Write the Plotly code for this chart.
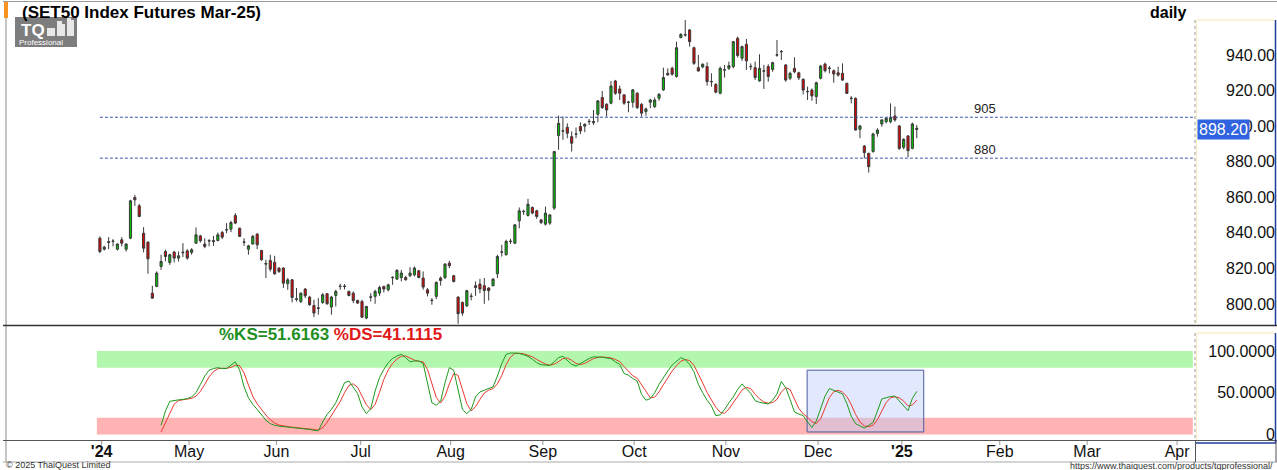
import plotly.graph_objects as go

# ---------------- data ----------------
OPEN = [837.0, 830.8, 834.6, 835.2, 830.8, 836.1, 830.8, 837.0, 859.9, 855.2,
        839.8, 834.8, 806.1, 809.9, 821.1, 829.5, 823.4, 829.2, 825.8, 828.8,
        829.9, 829.0, 834.2, 838.3, 833.7, 835.4, 835.0, 835.7, 840.2, 841.6,
        842.1, 849.8, 842.6, 834.7, 830.8, 833.8, 839.3, 830.1, 822.4, 824.5,
        823.5, 820.2, 820.2, 811.4, 813.6, 802.6, 801.4, 808.4, 803.9, 799.2,
        797.5, 800.9, 805.8, 798.3, 804.8, 809.8, 809.8, 807.1, 806.1, 802.0,
        801.4, 792.1, 803.8, 804.3, 806.1, 809.9, 808.0, 814.8, 814.0, 814.9,
        814.9, 815.9, 816.4, 818.7, 814.6, 808.0, 801.9, 804.3, 814.6, 814.9,
        823.0, 815.9, 803.9, 800.9, 799.0, 804.2, 810.3, 811.2, 810.3, 809.0,
        810.3, 817.0, 829.1, 827.7, 835.1, 834.2, 846.8, 851.9, 849.8, 854.3,
        852.4, 847.3, 844.9, 845.5, 853.9, 894.7, 897.2, 899.4, 894.1, 895.4,
        899.8, 900.0, 902.5, 901.9, 906.7, 916.1, 912.3, 912.9, 925.4, 920.9,
        917.6, 913.3, 913.4, 918.5, 912.3, 908.2, 913.4, 911.0, 915.7, 920.4,
        929.7, 932.5, 927.9, 949.8, 951.2, 954.1, 944.1, 932.9, 933.3, 933.5,
        924.9, 923.5, 918.5, 931.5, 932.5, 933.5, 949.4, 938.2, 946.0, 933.4,
        932.9, 925.4, 930.9, 933.5, 931.9, 939.9, 941.8, 934.4, 926.9, 932.5,
        930.0, 926.3, 919.3, 920.3, 916.6, 926.9, 934.9, 932.4, 931.2, 930.0,
        929.7, 924.1, 915.5, 915.6, 898.2, 888.8, 884.7, 885.7, 895.9, 901.2,
        902.5, 902.5, 905.7, 900.1, 888.1, 894.5, 887.5, 898.8]
HIGH = [838.0, 832.7, 837.6, 836.5, 834.2, 837.6, 834.2, 858.6, 861.4, 856.3,
        843.2, 835.2, 810.3, 818.3, 827.7, 830.5, 828.2, 829.9, 829.5, 834.2,
        830.8, 831.4, 843.0, 838.9, 837.0, 836.5, 838.3, 840.2, 841.1, 845.5,
        846.8, 851.1, 843.0, 837.0, 833.3, 838.9, 839.8, 830.5, 824.9, 827.7,
        827.1, 820.7, 820.7, 814.6, 814.0, 809.0, 806.5, 809.0, 804.6, 802.4,
        803.3, 806.1, 806.1, 804.6, 808.0, 811.4, 811.2, 807.5, 807.1, 802.4,
        802.4, 799.0, 806.1, 808.0, 810.3, 810.3, 811.4, 815.5, 819.6, 819.2,
        815.9, 820.7, 821.1, 819.2, 818.3, 809.0, 803.3, 812.7, 815.5, 823.0,
        824.3, 816.4, 804.3, 801.4, 808.0, 806.1, 812.7, 814.2, 814.6, 809.5,
        814.6, 827.7, 833.3, 836.1, 836.7, 844.9, 854.3, 853.0, 859.1, 854.8,
        853.0, 847.9, 854.8, 850.5, 886.1, 905.9, 905.4, 901.6, 897.0, 899.2,
        902.2, 901.6, 904.1, 909.1, 914.7, 919.8, 912.9, 925.4, 926.0, 922.8,
        917.9, 914.2, 920.9, 919.1, 912.9, 910.4, 915.3, 916.1, 918.5, 932.9,
        932.5, 933.5, 947.5, 952.2, 959.7, 954.6, 944.7, 940.0, 935.3, 935.9,
        929.7, 924.1, 933.5, 934.4, 936.3, 947.9, 950.3, 945.3, 949.0, 935.3,
        936.3, 940.4, 934.4, 934.8, 936.2, 948.4, 942.8, 934.9, 930.6, 938.7,
        930.6, 926.9, 922.2, 921.2, 925.0, 934.4, 935.7, 933.8, 931.9, 933.4,
        935.3, 924.4, 916.9, 916.2, 900.6, 889.4, 885.1, 896.3, 898.8, 903.8,
        905.0, 912.8, 911.0, 900.6, 893.2, 895.0, 902.0, 900.6]
LOW = [828.6, 830.1, 830.8, 832.4, 830.1, 832.4, 829.5, 836.5, 855.2, 848.8,
       829.0, 817.0, 803.0, 809.5, 819.2, 824.0, 822.0, 823.4, 823.9, 826.4,
       824.9, 827.7, 833.8, 834.6, 831.4, 832.4, 832.7, 835.2, 836.5, 839.8,
       840.4, 844.9, 837.6, 832.7, 827.7, 833.3, 830.8, 824.3, 814.6, 818.3,
       816.4, 817.4, 809.0, 808.0, 800.9, 801.4, 800.5, 803.3, 799.0, 792.6,
       794.0, 800.1, 799.6, 794.0, 798.6, 808.0, 808.2, 804.3, 800.5, 800.1,
       792.1, 791.5, 801.4, 800.1, 804.6, 806.5, 807.1, 810.8, 813.6, 812.7,
       813.2, 815.1, 815.5, 814.4, 808.0, 804.3, 799.6, 802.8, 810.3, 814.0,
       820.2, 812.1, 788.9, 793.4, 798.3, 802.0, 804.6, 806.1, 800.1, 802.0,
       809.9, 814.6, 826.7, 827.3, 833.7, 833.7, 842.6, 850.1, 849.2, 850.5,
       847.9, 844.9, 844.1, 844.5, 852.9, 886.7, 892.3, 893.2, 885.7, 893.2,
       895.5, 896.6, 900.7, 900.7, 902.2, 909.7, 905.4, 912.3, 917.6, 914.7,
       912.0, 907.8, 910.4, 909.7, 905.4, 905.9, 910.1, 910.1, 914.2, 919.8,
       928.4, 928.4, 927.3, 949.4, 950.3, 944.7, 934.4, 930.7, 932.5, 922.8,
       922.2, 918.5, 917.9, 927.3, 931.6, 932.5, 938.6, 936.7, 931.6, 931.6,
       926.0, 925.0, 920.9, 925.0, 930.6, 939.0, 937.2, 925.0, 925.9, 929.7,
       925.9, 917.9, 914.7, 914.3, 912.4, 926.3, 930.2, 929.7, 924.4, 927.8,
       925.5, 918.1, 912.8, 897.5, 893.2, 881.9, 873.9, 885.1, 894.1, 899.7,
       901.6, 901.6, 902.5, 886.6, 887.0, 882.5, 887.0, 893.2]
CLOSE = [829.5, 832.0, 835.0, 835.4, 833.7, 834.2, 833.7, 858.0, 858.6, 849.2,
         831.4, 825.4, 803.3, 817.4, 823.9, 826.7, 827.7, 825.8, 827.1, 829.1,
         825.8, 830.5, 838.9, 835.5, 832.4, 835.6, 835.6, 838.9, 837.6, 841.8,
         845.8, 845.5, 838.0, 834.9, 832.7, 838.0, 833.3, 824.9, 822.8, 819.6,
         817.0, 818.3, 811.7, 813.6, 803.7, 802.9, 806.1, 804.6, 799.6, 794.9,
         797.8, 805.2, 800.1, 803.9, 807.1, 810.0, 810.0, 804.8, 802.0, 800.5,
         792.6, 798.6, 804.0, 807.1, 809.3, 808.4, 810.8, 815.0, 818.9, 817.4,
         813.6, 817.4, 820.2, 814.9, 809.5, 806.1, 802.1, 812.1, 813.2, 822.4,
         821.5, 812.7, 794.5, 794.9, 807.5, 804.4, 809.3, 808.4, 807.6, 807.5,
         814.0, 826.7, 829.3, 835.2, 835.3, 844.5, 852.4, 852.1, 856.1, 851.1,
         849.2, 845.8, 851.1, 850.1, 885.7, 901.6, 897.4, 896.0, 890.4, 895.6,
         897.3, 901.0, 902.7, 902.6, 914.2, 910.4, 909.1, 922.6, 918.5, 918.5,
         912.9, 913.5, 920.4, 910.4, 907.3, 909.7, 914.7, 914.7, 917.9, 927.3,
         928.8, 929.2, 944.1, 951.6, 951.4, 947.5, 935.3, 931.0, 934.8, 925.0,
         925.1, 919.1, 932.5, 931.7, 934.0, 947.5, 939.7, 944.7, 936.7, 933.6,
         927.3, 932.5, 931.1, 927.9, 935.7, 940.1, 942.0, 925.9, 929.7, 930.6,
         927.2, 920.3, 919.5, 917.0, 924.4, 933.8, 931.2, 932.6, 929.3, 928.7,
         925.9, 918.4, 915.7, 897.8, 900.1, 885.1, 877.2, 895.6, 897.8, 903.5,
         904.4, 904.9, 903.5, 887.5, 892.6, 886.2, 901.2, 898.2]
BAR_INDEX = list(range(1, len(CLOSE) + 1))

STOCH_START = 15
STOCH_K = [11, 28, 39.7, 41, 41.5, 42, 43, 45, 50, 60,
           70, 77, 79, 80, 79, 79, 83, 87, 77, 57,
           44, 36, 30, 23, 17, 13, 11, 10, 9.5, 8.5,
           8, 8, 7.5, 7, 6, 5, 4.5, 15, 24, 30,
           38, 50, 62, 64, 56, 49, 33, 25, 31, 52,
           68, 78, 86, 91, 94, 96, 92, 87, 88, 88,
           85, 60, 38, 35, 40, 62, 80, 77, 55, 30,
           25, 30, 45, 51, 53, 55, 57, 70, 85, 96,
           97.5, 97.5, 97, 95.5, 93.5, 90, 86, 83.5, 83, 82.7,
           87, 92, 93.6, 89, 84, 82, 85, 88.5, 91, 93,
           93, 92.5, 91.5, 90.8, 87, 84, 73, 71, 67, 64,
           48, 41, 43, 50, 60, 68.7, 76, 83, 88, 92,
           89.5, 84, 75, 60, 50, 41, 34, 22.5, 23.5, 30,
           38, 45, 54, 60.6, 55, 49, 40.5, 38.5, 37.5, 36.5,
           41, 48.6, 63.5, 56, 42, 27, 24.5, 22.5, 15, 8.4,
           16, 32, 46, 55, 52.6, 51, 48.6, 37, 22, 13,
           10, 7.6, 11, 14.4, 28, 42.6, 44, 45.5, 46, 40,
           34, 28.5, 43.3, 51.6163]
STOCH_D = [3, 14, 26.2, 36.2, 40.7, 41.5, 42.2, 43.3, 46, 51.7,
           60, 69, 75.3, 78.7, 79.3, 79.3, 80.3, 83, 82.3, 73.7,
           59.3, 45.7, 36.7, 29.7, 23.3, 17.7, 13.7, 11.3, 10.2, 9.3,
           8.7, 8.2, 7.8, 7.5, 6.8, 6, 5.2, 8.2, 14.5, 23,
           30.7, 39.3, 50, 58.7, 60.7, 56.3, 46, 35.7, 29.7, 36,
           50.3, 66, 77.3, 85, 90.3, 93.7, 94, 91.7, 89, 87.7,
           87, 77.7, 61, 44.3, 37.7, 45.7, 60.7, 73, 70.7, 54,
           36.7, 28.3, 33.3, 42, 49.7, 53, 55, 60.7, 70.7, 83.7,
           92.8, 97, 97.3, 96.7, 95.3, 93, 89.8, 86.5, 84.2, 83.1,
           84.2, 87.2, 90.9, 91.5, 88.9, 85, 83.7, 85.2, 88.2, 90.8,
           92.3, 92.8, 92.3, 91.6, 89.8, 87.3, 81.3, 76, 70.3, 67.3,
           59.7, 51, 44, 44.7, 51, 59.6, 68.2, 75.9, 82.3, 87.7,
           89.8, 88.5, 82.8, 73, 61.7, 50.3, 41.7, 32.5, 26.7, 25.3,
           30.5, 37.7, 45.7, 53.2, 56.5, 54.9, 48.2, 42.7, 38.8, 37.5,
           38.3, 42, 51, 56, 53.8, 41.7, 31.2, 24.7, 20.7, 15.3,
           13.1, 18.8, 31.3, 44.3, 51.2, 52.9, 50.7, 45.5, 35.9, 24,
           15, 10.2, 9.5, 11, 17.8, 28.3, 38.2, 44, 45.2, 43.8,
           40, 34.2, 35.3, 41.1115]
STOCH_INDEX = list(range(STOCH_START, STOCH_START + len(STOCH_K)))

PRICE_TICKS = [800, 820, 840, 860, 880, 900, 920, 940]
STOCH_TICKS = [0, 50, 100]
STOCH_TICKTEXT = ["0", "50.0000", "100.0000"]
MONTH_LABELS = ["<b>'24</b>", "May", "Jun", "Jul", "Aug", "Sep", "Oct", "Nov", "Dec",
                "<b>'25</b>", "Feb", "Mar", "Apr"]
MONTH_POS = [1.4, 21.4, 41.4, 60.7, 81.3, 102.4, 123.3, 144.3, 165.4, 184.6, 207.0, 227.0, 247.6]

LEVELS = [905, 882]
LEVEL_LABELS = ["905", "880"]
OVERBOUGHT = (80, 100)
OVERSOLD = (0, 20)
BOX_X = (162.9, 189.6)
BOX_Y = (3, 77)

# ---------------- layout helpers ----------------
W, H = 1277, 470
ML, MR, MT, MB = 6, 2, 2, 30
PW, PH = W - ML - MR, H - MT - MB


def fx(px):
    return (px - ML) / PW


def fy(py):
    return (H - MB - py) / PH


X_RANGE = [-20.5, 251.7]
FONT = "Liberation Sans, Arial, sans-serif"

fig = go.Figure()
fig.add_trace(go.Candlestick(
    x=BAR_INDEX, open=OPEN, high=HIGH, low=LOW, close=CLOSE,
    increasing=dict(fillcolor="#00c000", line=dict(color="#3a3a3a", width=1)),
    decreasing=dict(fillcolor="#e00000", line=dict(color="#3a3a3a", width=1)),
    whiskerwidth=0, xaxis="x", yaxis="y", showlegend=False, hoverinfo="skip"))
fig.add_trace(go.Scatter(x=STOCH_INDEX, y=STOCH_D, mode="lines",
                         line=dict(color="#e83a30", width=1), xaxis="x2", yaxis="y2",
                         showlegend=False, hoverinfo="skip"))
fig.add_trace(go.Scatter(x=STOCH_INDEX, y=STOCH_K, mode="lines",
                         line=dict(color="#1f9a1f", width=1), xaxis="x2", yaxis="y2",
                         showlegend=False, hoverinfo="skip"))

shapes = []
# stochastic zones
shapes.append(dict(type="rect", xref="x2", yref="y2", x0=0.3, x1=251.2,
                   y0=OVERBOUGHT[0], y1=OVERBOUGHT[1], fillcolor="#b3f7ae",
                   line=dict(width=0), layer="below"))
shapes.append(dict(type="rect", xref="x2", yref="y2", x0=0.3, x1=251.2,
                   y0=OVERSOLD[0], y1=OVERSOLD[1], fillcolor="#ffb3b3",
                   line=dict(width=0), layer="below"))
shapes.append(dict(type="rect", xref="x2", yref="y2", x0=BOX_X[0], x1=BOX_X[1],
                   y0=BOX_Y[0], y1=BOX_Y[1], fillcolor="rgba(190,205,250,0.45)",
                   line=dict(color="#4b5c9c", width=1), layer="below"))
# horizontal levels
for lv in LEVELS:
    shapes.append(dict(type="line", xref="x", yref="y", x0=1, x1=X_RANGE[1],
                       y0=lv, y1=lv, line=dict(color="#3a56a8", width=1, dash="3px,2px")))


def pline(x0, y0, x1, y1, color, width=1, dash=None):
    d = dict(type="line", xref="paper", yref="paper", x0=fx(x0), x1=fx(x1),
             y0=fy(y0), y1=fy(y1), line=dict(color=color, width=width))
    if dash:
        d["line"]["dash"] = dash
    return d


# frame
shapes += [
    pline(3, 1.5, 1277, 1.5, "#9a9a9a"),
    pline(6, 2, 6, 462, "#8a8a8a"),
    pline(3, 325.5, 1277, 325.5, "#333333", 1.5),
    pline(3, 440.5, 1277, 440.5, "#555555", 1),
    pline(3, 462, 1277, 462, "#aaaaaa", 1),
    # main price-axis box
    pline(1195, 20, 1195, 325, "#9a9a9a", 1, "dot"),
    pline(1196.5, 20, 1275, 20, "#f6e7b0"),
    pline(1196.5, 20, 1196.5, 325, "#f8ecc4"),
    pline(1275.5, 20, 1275.5, 325, "#1f3c9c", 1.5),
    # stochastic axis box
    pline(1195, 333, 1195, 440, "#9a9a9a", 1, "dot"),
    pline(1196.5, 333, 1275, 333, "#f6e7b0"),
    pline(1196.5, 333, 1196.5, 440, "#f8ecc4"),
    pline(1275.5, 333, 1275.5, 443, "#1f3c9c", 1.5),
    pline(1196, 443, 1276, 443, "#1f3c9c", 1.5),
    # date strip box
    pline(1195.5, 441, 1195.5, 462, "#555555"),
    pline(1276, 441, 1276, 462, "#555555"),
]
# month tick marks
for mp in MONTH_POS:
    shapes.append(dict(type="line", xref="x2", yref="paper", x0=mp, x1=mp,
                       y0=fy(441), y1=fy(445), line=dict(color="#999999", width=1)))
# orange marker + logo
shapes.append(dict(type="rect", xref="paper", yref="paper", x0=fx(4), x1=fx(8),
                   y0=fy(18), y1=fy(2), fillcolor="#f7931e", line=dict(width=0)))
shapes.append(dict(type="rect", xref="paper", yref="paper", x0=fx(15), x1=fx(77),
                   y0=fy(47), y1=fy(17), fillcolor="#7d7d7d", line=dict(width=0)))
for (a, b, c, d) in [(47, 55, 28, 36), (57, 65, 24, 36), (67, 74, 20, 36), (57, 62, 21, 24), (67, 71, 18, 20)]:
    shapes.append(dict(type="rect", xref="paper", yref="paper", x0=fx(a), x1=fx(b),
                       y0=fy(d), y1=fy(c), fillcolor="#e8e8e8", line=dict(width=0)))

ann = []


def ptext(x, y, text, size, color="#000", bold=False, xanchor="left", yanchor="middle", **kw):
    t = f"<b>{text}</b>" if bold else text
    a = dict(xref="paper", yref="paper", x=fx(x), y=fy(y), text=t, showarrow=False,
             xanchor=xanchor, yanchor=yanchor, font=dict(size=size, color=color, family=FONT))
    a.update(kw)
    return a


ann.append(ptext(20, 12.5, "(SET50 Index Futures Mar-25)", 17, bold=True))
ann.append(ptext(1189, 12.5, "daily", 16, bold=True, xanchor="right"))
ann.append(ptext(19, 30, "TQ", 17, color="white", bold=True))
ann.append(ptext(17, 42, "Professional", 8, color="white"))
ann.append(ptext(217, 334,
                 f"<b><span style='color:#1f8f1f'>%KS={STOCH_K[-1]:.4f}</span> "
                 f"<span style='color:#e01818'>%DS={STOCH_D[-1]:.4f}</span></b>", 17))
for lv, lab in zip(LEVELS, LEVEL_LABELS):
    ann.append(dict(xref="x", yref="y", x=203.6, y=lv, text=lab, showarrow=False,
                    xanchor="center", yanchor="bottom", yshift=-1,
                    font=dict(size=13, color="#222", family=FONT)))
ann.append(dict(xref="paper", yref="y", x=fx(1197), y=CLOSE[-1], text=f"{CLOSE[-1]:.2f}",
                showarrow=False, xanchor="left", yanchor="middle", bgcolor="#2f63e0",
                borderpad=1, font=dict(size=16, color="white", family=FONT)))
ann.append(ptext(4, 465.5, "© 2025 ThaiQuest Limited", 9, color="#333"))
ann.append(ptext(1275, 466, "https://www.thaiquest.com/products/tqprofessional/", 9,
                 color="#333", xanchor="right"))

fig.update_layout(
    width=W, height=H, margin=dict(l=ML, r=MR, t=MT, b=MB),
    paper_bgcolor="white", plot_bgcolor="white", showlegend=False,
    font=dict(family=FONT, color="#000"),
    xaxis=dict(domain=[0, fx(1195)], range=X_RANGE, anchor="y", showticklabels=False,
               showgrid=False, zeroline=False, rangeslider=dict(visible=False), ticks=""),
    yaxis=dict(domain=[fy(325), 1], range=[788.2, 969.8], anchor="free", position=1,
               side="left", tickvals=PRICE_TICKS, ticktext=[f"{v:.2f}" for v in PRICE_TICKS],
               tickfont=dict(size=16, color="#111"), showgrid=False, zeroline=False, ticks=""),
    xaxis2=dict(domain=[0, fx(1195)], range=X_RANGE, anchor="y2", tickvals=MONTH_POS,
                ticktext=MONTH_LABELS, tickfont=dict(size=16, color="#111"), ticks="",
                showgrid=False, zeroline=False),
    yaxis2=dict(domain=[0, fy(327)], range=[-6.6, 128.7], anchor="free", position=1,
                side="left", tickvals=STOCH_TICKS, ticktext=STOCH_TICKTEXT,
                tickfont=dict(size=16, color="#111"), showgrid=False, zeroline=False, ticks=""),
    shapes=shapes, annotations=ann,
)

fig.write_html("out.html")
